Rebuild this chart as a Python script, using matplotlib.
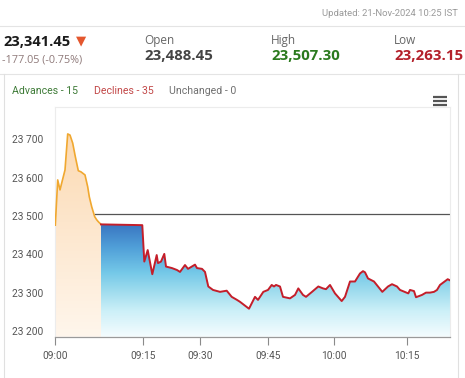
import matplotlib
matplotlib.use("Agg")
import matplotlib.pyplot as plt
import numpy as np
from matplotlib.colors import LinearSegmentedColormap
from matplotlib.lines import Line2D

# ordinal x positions (highstock style axis, points equally spaced)
tick_pos = [0, 88, 145, 213, 278.7, 351.4]
tick_labels = ["09:00", "09:15", "09:30", "09:45", "10:00", "10:15"]
yticks = [23200, 23300, 23400, 23500, 23600, 23700]

# pre-open session (orange)
pre_x = [0, 2.4, 4.7, 6.7, 9.7, 12.4, 14.7, 17.4, 20, 23, 25.7, 29.7, 32.4,
         34, 36.4, 39.4, 41.4, 43, 45.7]
pre_y = [23476, 23594, 23568, 23589, 23620, 23714, 23711, 23690, 23655, 23618,
         23615, 23607, 23576, 23550, 23524, 23498, 23490, 23485, 23478]

# regular session (red line, blue area)
reg_x = [45.7, 87.0, 89.0, 92.4, 97.0, 101.4, 102.7, 105.7, 109.0, 110.7, 116.7,
         121.7, 124.7, 129.7, 132.7, 139.7, 141.7, 146.7, 149.7, 153.0, 157.7,
         164.7, 171.4, 176.4, 181.7, 184.7, 189.7, 193.7, 199.7, 202.7, 208.0,
         212.7, 216.4, 218.7, 220.7, 224.7, 227.7, 234.7, 239.7, 243.0, 247.7,
         250.7, 256.7, 263.0, 267.7, 270.7, 274.7, 279.7, 286.4, 289.7, 294.7,
         299.7, 304.7, 307.7, 309.7, 312.7, 315.7, 318.7, 322.7, 327.0, 332.7,
         336.7, 341.7, 344.7, 353.0, 354.7, 358.7, 360.7, 366.7, 370.7, 374.7,
         378.7, 381.7, 384.7, 392.4, 394.7]
reg_y = [23478, 23476, 23381, 23411, 23348, 23398, 23377, 23381, 23401, 23368, 23364,
         23359, 23354, 23372, 23362, 23373, 23364, 23362, 23354, 23316, 23307,
         23302, 23305, 23289, 23281, 23276, 23266, 23258, 23289, 23281, 23302,
         23307, 23320, 23316, 23320, 23316, 23289, 23285, 23294, 23311, 23294,
         23289, 23302, 23316, 23311, 23309, 23320, 23298, 23278, 23289, 23329,
         23329, 23350, 23356, 23353, 23337, 23333, 23329, 23316, 23302, 23316,
         23322, 23316, 23307, 23298, 23307, 23304, 23288, 23294, 23300, 23300,
         23302, 23307, 23320, 23335, 23332]
ref_level = 23505

ymin, ymax = 23185, 23785
xmax = 394.7

fig = plt.figure(figsize=(4.65, 3.78), dpi=100)
fig.patch.set_facecolor("white")

# ---- header ----
hf = "Open Sans"
fig.text(0.984, 1 - 13.5 / 378, "Updated: 21-Nov-2024 10:25 IST", ha="right", va="center",
         fontsize=6.8, color="#9a9a9a", family="Roboto")
fig.add_artist(Line2D([0, 1], [1 - 26 / 378] * 2, color="#e4e4e4", lw=0.8))
fig.add_artist(Line2D([0, 1], [1 - 74 / 378] * 2, color="#e4e4e4", lw=0.8))

fig.text(3 / 465, 1 - 42 / 378, "23,341.45", ha="left", va="center", fontsize=10.5,
         weight="bold", color="#1a1a1a", family=hf)
fig.text(81 / 465, 1 - 41 / 378, "\u25bc", ha="center", va="center", fontsize=9.5,
         color="#e4572e", family="DejaVu Sans")
fig.text(2 / 465, 1 - 60 / 378, "-177.05 (-0.75%)", ha="left", va="center", fontsize=7.8,
         color="#8f7a7a", family=hf)

cols = [(144, "Open", "23,488.45", "#444444"),
        (271, "High", "23,507.30", "#2b7a1e"),
        (394, "Low", "23,263.15", "#b3202a")]
for x, lab, val, c in cols:
    fig.text(x / 465, 1 - 40.5 / 378, lab, ha="left", va="center", fontsize=8.5,
             color="#666666", family=hf)
    fig.text(x / 465, 1 - 56 / 378, val, ha="left", va="center", fontsize=10.8,
             weight="bold", color=c, family=hf)

# panel border
fig.add_artist(Line2D([3.5 / 465] * 2, [0, 1 - 74 / 378], color="#e0e0e0", lw=0.8))
fig.add_artist(Line2D([458 / 465] * 2, [0, 1 - 74 / 378], color="#e0e0e0", lw=0.8))

fig.text(12 / 465, 1 - 91 / 378, "Advances - 15", ha="left", va="center", fontsize=7.6,
         color="#3d7a36", family="Roboto")
fig.text(93.5 / 465, 1 - 91 / 378, "Declines - 35", ha="left", va="center", fontsize=7.6,
         color="#c24848", family="Roboto")
fig.text(169 / 465, 1 - 91 / 378, "Unchanged - 0", ha="left", va="center", fontsize=7.6,
         color="#707070", family="Roboto")

# menu icon
for yy in (97, 101, 105):
    fig.add_artist(Line2D([433 / 465, 447 / 465], [1 - yy / 378] * 2, color="#555555",
                          lw=1.6, solid_capstyle="butt"))

# ---- chart ----
ax = fig.add_axes([55.3 / 465, 1 - 336.7 / 378, (450 - 55.3) / 465, (336.7 - 106.7) / 378])
ax.set_xlim(0, xmax)
ax.set_ylim(ymin, ymax)

blue_cmap = LinearSegmentedColormap.from_list("b", [
    (0.0, "#f4fcfe"), (0.11, "#cdf0f8"), (0.2, "#9edcee"), (0.28, "#74c8e8"),
    (0.39, "#509fd8"), (0.49, "#3a76c2"), (1.0, "#2f5fb0")])
orange_cmap = LinearSegmentedColormap.from_list("o", [
    (0.0, "#fff6ec"), (0.5, "#fde6cc"), (1.0, "#fcd6aa")])

grad = np.linspace(0, 1, 256).reshape(-1, 1)

poly_o = ax.fill_between(pre_x, pre_y, ymin, color="none", lw=0)
im_o = ax.imshow(grad, cmap=orange_cmap, aspect="auto", origin="lower",
                 extent=[0, xmax, ymin, ymax], zorder=1)
im_o.set_clip_path(poly_o.get_paths()[0], transform=ax.transData)

poly_b = ax.fill_between(reg_x, reg_y, ymin, color="none", lw=0)
im_b = ax.imshow(grad, cmap=blue_cmap, aspect="auto", origin="lower",
                 extent=[0, xmax, ymin, ymax], zorder=1)
im_b.set_clip_path(poly_b.get_paths()[0], transform=ax.transData)

ax.plot([39.4, xmax], [ref_level, ref_level], color="#555555", lw=0.9, zorder=2)
ax.plot(pre_x, pre_y, color="#f0a830", lw=1.2, zorder=3)
ax.plot(reg_x, reg_y, color="#c41e2a", lw=1.4, zorder=3, solid_joinstyle="round")

ax.set_xticks(tick_pos)
ax.set_xticklabels(tick_labels)
ax.set_yticks(yticks)
ax.set_yticklabels([f"{v:,}".replace(",", " ") for v in yticks])
for lab in ax.get_xticklabels() + ax.get_yticklabels():
    lab.set_family("Roboto")
    lab.set_fontsize(7.3)
    lab.set_color("#555555")
ax.tick_params(axis="x", length=6, width=0.8, color="#8a8a8a", pad=4)
ax.tick_params(axis="y", length=0, pad=8.5)

for s in ("top", "left", "right"):
    ax.spines[s].set_color("#ececec")
    ax.spines[s].set_linewidth(0.8)
ax.spines["bottom"].set_color("#9a9a9a")
ax.spines["bottom"].set_linewidth(0.9)

fig.savefig("out.png", dpi=100)
